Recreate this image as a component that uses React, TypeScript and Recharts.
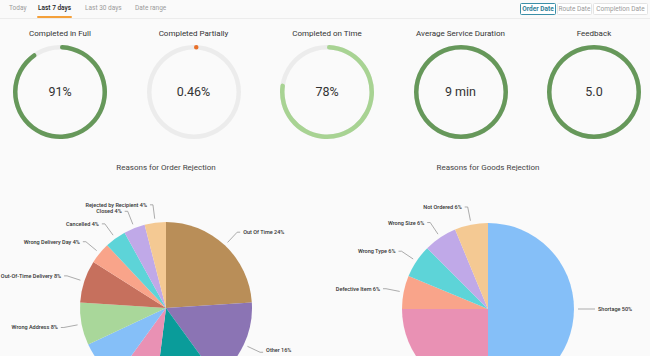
import { Cell, Pie, PieChart, PolarAngleAxis, RadialBar, RadialBarChart } from 'recharts'

const tabs = ['Today', 'Last 7 days', 'Last 30 days', 'Date range']
const tabLefts = [9, 38, 85, 135]
const activeTab = 1
const dateModes = ['Order Date', 'Route Date', 'Completion Date']
const modeWidths = [36, 35, 55]
const activeMode = 0

const gaugeTitles = [
  'Completed in Full',
  'Completed Partially',
  'Completed on Time',
  'Average Service Duration',
  'Feedback',
]
const gaugeValues = [91, 0.46, 78, 100, 100]
const gaugeLabels = ['91%', '0.46%', '78%', '9 min', '5.0']
const gaugeColors = ['#66985a', '#e8702a', '#a8d393', '#66985a', '#66985a']

const orderReasons = [
  'Out Of Time',
  'Other',
  'Customer Not Available',
  'Refused',
  'Incomplete Order',
  'Wrong Address',
  'Out-Of-Time Delivery',
  'Wrong Delivery Day',
  'Cancelled',
  'Closed',
  'Rejected by Recipient',
]
const orderCounts = [6, 4, 3, 2, 2, 2, 2, 1, 1, 1, 1]
const orderColors = [
  '#b98e58',
  '#8b74b4',
  '#0a9c9a',
  '#e991b4',
  '#85bff8',
  '#a9d79a',
  '#c6705d',
  '#f9a48a',
  '#5dd4d8',
  '#c0a9e8',
  '#f4c993',
]

const goodsReasons = ['Shortage', 'Damaged', 'Defective Item', 'Wrong Type', 'Wrong Size', 'Not Ordered']
const goodsCounts = [8, 4, 1, 1, 1, 1]
const goodsColors = ['#85bff8', '#e991b4', '#f9a48a', '#5dd4d8', '#c0a9e8', '#f4c993']

const FONT = 'Roboto, "Noto Sans", sans-serif'
const RADIAN = Math.PI / 180
const PIE_HEIGHT = 196

// connector: radial piece off the slice, short horizontal tail, then the text.
// The panel is cropped at the bottom, so labels that land below it are skipped.
function renderSliceLabel(props: any) {
  const { cx, cy, midAngle, outerRadius, name, percent } = props
  const a = -midAngle * RADIAN
  const cos = Math.cos(a)
  const sin = Math.sin(a)
  const x1 = cx + (outerRadius + 4) * cos
  const y1 = cy + (outerRadius + 4) * sin
  const x2 = cx + (outerRadius + 18) * cos
  const y2 = cy + (outerRadius + 18) * sin
  if (y2 > PIE_HEIGHT) return null
  const right = cos >= 0
  const x3 = x2 + (right ? 3 : -3)
  return (
    <g>
      <polyline
        points={`${x1},${y1} ${x2},${y2} ${x3},${y2}`}
        stroke="#8a8a8a"
        strokeWidth={0.7}
        fill="none"
      />
      <text
        x={x3 + (right ? 3 : -3)}
        y={Math.min(y2, PIE_HEIGHT - 6)}
        textAnchor={right ? 'start' : 'end'}
        dominantBaseline="central"
        fontSize={5.5}
        fontWeight={500}
        fontFamily={FONT}
        fill="#333"
      >
        {`${name} ${Math.round(percent * 100)}%`}
      </text>
    </g>
  )
}

function Gauge({ index }: { index: number }) {
  const cx = 60 + index * 133.5
  return (
    <>
      <div
        style={{
          position: 'absolute',
          left: cx - 66,
          width: 132,
          top: 29,
          lineHeight: '10px',
          fontSize: 8,
          textAlign: 'center',
          color: '#333',
        }}
      >
        {gaugeTitles[index]}
      </div>
      <div style={{ position: 'absolute', left: cx - 50, top: 42 }}>
        <RadialBarChart
          width={100}
          height={100}
          data={[{ name: gaugeTitles[index], value: gaugeValues[index] }]}
          startAngle={90}
          endAngle={-270}
          innerRadius={42.5}
          outerRadius={47.5}
          barSize={5}
          margin={{ top: 0, right: 0, bottom: 0, left: 0 }}
        >
          <PolarAngleAxis type="number" domain={[0, 100]} tick={false} axisLine={false} />
          <RadialBar
            dataKey="value"
            fill={gaugeColors[index]}
            background={{ fill: '#ececec' }}
            cornerRadius={2.5}
            forceCornerRadius
            isAnimationActive={false}
          />
        </RadialBarChart>
      </div>
      <div
        style={{
          position: 'absolute',
          left: cx - 40,
          width: 80,
          top: 84,
          lineHeight: '16px',
          fontSize: 12.5,
          textAlign: 'center',
          color: '#333',
        }}
      >
        {gaugeLabels[index]}
      </div>
    </>
  )
}

function ReasonPie({
  title,
  names,
  counts,
  colors,
  left,
  cx,
  cy,
}: {
  title: string
  names: string[]
  counts: number[]
  colors: string[]
  left: number
  cx: number
  cy: number
}) {
  const data = names.map((name, i) => ({ name, value: counts[i] }))
  return (
    <>
      <div
        style={{
          position: 'absolute',
          left: left + cx - 100,
          width: 200,
          top: 163,
          lineHeight: '10px',
          fontSize: 8,
          textAlign: 'center',
          color: '#444',
        }}
      >
        {title}
      </div>
      <div style={{ position: 'absolute', left, top: 160 }}>
        <PieChart width={325} height={PIE_HEIGHT} margin={{ top: 0, right: 0, bottom: 0, left: 0 }}>
          <Pie
            data={data}
            dataKey="value"
            nameKey="name"
            cx={cx}
            cy={cy}
            outerRadius={86}
            startAngle={90}
            endAngle={-270}
            stroke="none"
            label={renderSliceLabel}
            labelLine={false}
            isAnimationActive={false}
          >
            {data.map((d, i) => (
              <Cell key={d.name} fill={colors[i]} />
            ))}
          </Pie>
        </PieChart>
      </div>
    </>
  )
}

export default function App() {
  return (
    <div
      style={{
        position: 'absolute',
        left: 0,
        top: 0,
        width: 650,
        height: 356,
        overflow: 'hidden',
        background: '#fafafa',
        fontFamily: FONT,
      }}
    >
      <div style={{ position: 'absolute', left: 0, top: 18, width: 650, height: 1, background: '#ececec' }} />
      {tabs.map((t, i) => (
        <div
          key={t}
          style={{
            position: 'absolute',
            left: tabLefts[i],
            top: 3,
            fontSize: 6.5,
            lineHeight: '11px',
            color: i === activeTab ? '#222' : '#9a9a9a',
            fontWeight: i === activeTab ? 500 : 400,
            whiteSpace: 'nowrap',
          }}
        >
          {t}
          {i === activeTab && (
            <div
              style={{
                position: 'absolute',
                left: -1,
                right: -1,
                top: 13,
                height: 2,
                borderRadius: 1,
                background: '#f4a03a',
              }}
            />
          )}
        </div>
      ))}
      <div style={{ position: 'absolute', right: 2, top: 3, display: 'flex', gap: 1 }}>
        {dateModes.map((m, i) => (
          <div
            key={m}
            style={{
              width: modeWidths[i],
              boxSizing: 'border-box',
              textAlign: 'center',
              fontSize: 6.5,
              lineHeight: '10px',
              border: `1px solid ${i === activeMode ? '#3b8fa8' : '#e4e4e4'}`,
              borderRadius: 1.5,
              background: '#fff',
              color: i === activeMode ? '#2f7f99' : '#9a9a9a',
              fontWeight: i === activeMode ? 700 : 400,
              whiteSpace: 'nowrap',
            }}
          >
            {m}
          </div>
        ))}
      </div>
      {gaugeTitles.map((t, i) => (
        <Gauge key={t} index={i} />
      ))}
      <ReasonPie
        title="Reasons for Order Rejection"
        names={orderReasons}
        counts={orderCounts}
        colors={orderColors}
        left={0}
        cx={166}
        cy={148}
      />
      <ReasonPie
        title="Reasons for Goods Rejection"
        names={goodsReasons}
        counts={goodsCounts}
        colors={goodsColors}
        left={325}
        cx={163}
        cy={149}
      />
    </div>
  )
}
